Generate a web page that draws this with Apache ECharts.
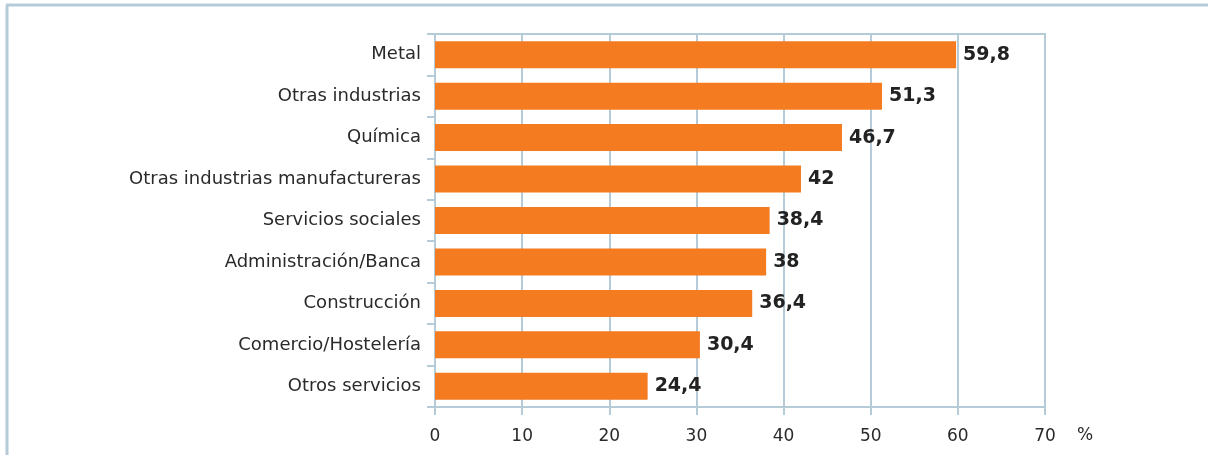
<!DOCTYPE html>
<html>
<head>
<meta charset="utf-8">
<script src="https://cdn.jsdelivr.net/npm/echarts@6/dist/echarts.min.js"></script>
<style>
html,body{margin:0;padding:0;background:#fff;}
#chart{width:1208px;height:455px;}
</style>
</head>
<body>
<div id="chart"></div>
<script>
const categories = ["Metal", "Otras industrias", "Química", "Otras industrias manufactureras", "Servicios sociales", "Administración/Banca", "Construcción", "Comercio/Hostelería", "Otros servicios"];
const values = [59.8, 51.3, 46.7, 42, 38.4, 38, 36.4, 30.4, 24.4];
const xTicks = { min: 0, max: 70, interval: 10 };
const unitLabel = "%";

const lineColor = '#b6cbd8';
const chart = echarts.init(document.getElementById('chart'), null, { renderer: 'canvas' });
chart.setOption({
  animation: false,
  backgroundColor: '#ffffff',
  textStyle: { fontFamily: 'DejaVu Sans' },
  grid: { left: 435, right: 163, top: 34, bottom: 48, show: true, borderColor: lineColor, borderWidth: 2 },
  xAxis: {
    type: 'value', min: xTicks.min, max: xTicks.max, interval: xTicks.interval,
    axisLine: { show: true, lineStyle: { color: lineColor, width: 2 } },
    axisTick: { show: true, length: 8, lineStyle: { color: lineColor, width: 2 } },
    splitLine: { show: true, lineStyle: { color: lineColor, width: 2 } },
    axisLabel: { color: '#2a2a2a', fontSize: 17, margin: 21, fontFamily: 'DejaVu Sans' }
  },
  yAxis: {
    type: 'category', data: categories, inverse: true,
    axisLine: { show: true, lineStyle: { color: lineColor, width: 2 } },
    axisTick: { show: true, length: 8, lineStyle: { color: lineColor, width: 2 } },
    axisLabel: { color: '#2a2a2a', fontSize: 18, margin: 14, fontFamily: 'DejaVu Sans' }
  },
  series: [{
    type: 'bar', data: values, barWidth: 27,
    itemStyle: { color: '#f47b20' },
    label: {
      show: true, position: 'right', distance: 7,
      color: '#222', fontWeight: 'bold', fontSize: 19, fontFamily: 'DejaVu Sans',
      formatter: p => String(p.value).replace('.', ',')
    }
  }],
  graphic: [
    { type: 'line', shape: { x1: 7, y1: 5, x2: 7, y2: 455 }, style: { stroke: lineColor, lineWidth: 3 } },
    { type: 'line', shape: { x1: 6, y1: 5, x2: 1208, y2: 5 }, style: { stroke: lineColor, lineWidth: 3 } },
    { type: 'text', left: 1077, top: 427, style: { text: unitLabel, fill: '#2a2a2a', font: '17px "DejaVu Sans"' } }
  ]
});
</script>
</body>
</html>
